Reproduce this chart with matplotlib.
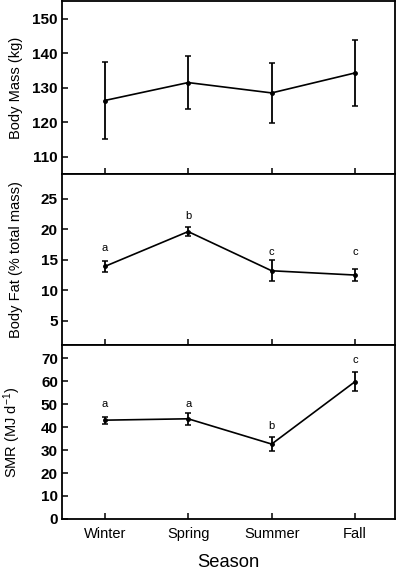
import numpy as np
import matplotlib.pyplot as plt

plt.rcParams['font.family'] = ['Liberation Sans', 'DejaVu Sans']
plt.rcParams['mathtext.default'] = 'regular'

seasons = ['Winter', 'Spring', 'Summer', 'Fall']

# body mass (kg), mean and error
mass = [126.3, 131.5, 128.5, 134.3]
mass_err = [11.2, 7.7, 8.6, 9.5]

# body fat (% total mass)
fat = [13.9, 19.6, 13.2, 12.5]
fat_err = [0.9, 0.8, 1.7, 1.0]
fat_letters = ['a', 'b', 'c', 'c']
fat_letter_y = [16.9, 22.1, 16.3, 16.3]

# SMR (MJ/d)
smr = [43.0, 43.6, 32.6, 59.8]
smr_err = [1.5, 2.6, 3.0, 4.0]
smr_letters = ['a', 'a', 'b', 'c']
smr_letter_y = [50.2, 50.2, 40.3, 69.1]

x = np.arange(1, 5)

fig = plt.figure(figsize=(3.98, 5.72), dpi=100)
ax1 = fig.add_axes([0.156, 0.6958, 0.837, 0.3016])
ax2 = fig.add_axes([0.156, 0.396, 0.837, 0.2998])
ax3 = fig.add_axes([0.156, 0.0927, 0.837, 0.3033])

panels = [
    (ax1, mass, mass_err, None, None, (105, 155), [110, 120, 130, 140, 150], 'Body Mass (kg)'),
    (ax2, fat, fat_err, fat_letters, fat_letter_y, (1, 29), [5, 10, 15, 20, 25], 'Body Fat (% total mass)'),
    (ax3, smr, smr_err, smr_letters, smr_letter_y, (0, 75.5), [0, 10, 20, 30, 40, 50, 60, 70], 'SMR (MJ d$^{-1}$)'),
]

for ax, y, e, letters, ly, ylim, yt, lab in panels:
    ax.errorbar(x, y, yerr=e, color='black', lw=1.2, marker='o', ms=2.5,
                capsize=2.2, capthick=1.1, elinewidth=1.3)
    ax.set_xlim(0.49, 4.48)
    ax.set_ylim(ylim)
    ax.set_yticks(yt)
    ax.set_xticks(x)
    ax.tick_params(axis='both', direction='in', length=4, width=1.1)
    ax.tick_params(axis='y', pad=3, labelsize=11)
    for t in ax.get_yticklabels():
        t.set_fontweight('bold')
    for s in ax.spines.values():
        s.set_linewidth(1.3)
    ax.set_ylabel(lab, fontsize=10.5)
    ax.yaxis.set_label_coords(-0.118, 0.5)
    if letters is not None:
        for i in range(4):
            ax.text(x[i], ly[i], letters[i], ha='center', va='center', fontsize=8)
    if ax is not ax3:
        ax.tick_params(axis='x', labelbottom=False)

ax3.set_xticklabels(seasons, fontsize=10.5)
ax3.tick_params(axis='x', pad=6)
ax3.set_xlabel('Season', fontsize=13.2, labelpad=9)

fig.savefig('out.png', dpi=100)
